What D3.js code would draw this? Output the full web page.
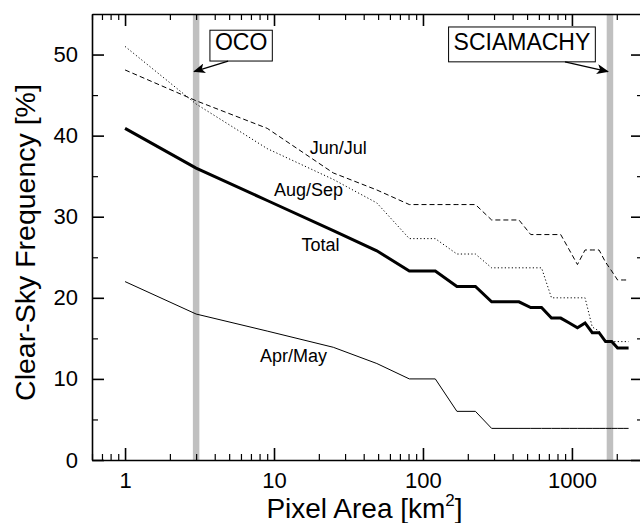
<!DOCTYPE html>
<html>
<head>
<meta charset="utf-8">
<script src="https://cdn.jsdelivr.net/npm/d3@7"></script>
<style>
  body { margin: 0; background: #fff; }
  svg { display: block; font-family: "Liberation Sans", Arial, sans-serif; }
</style>
</head>
<body>
<div id="vis"></div>
<script>
// data (pixel area in km2, clear-sky frequency in %)
const AREAS = [1, 3, 9, 25, 49, 81, 121, 169, 225, 289, 361, 441, 529, 625, 729,
               841, 961, 1089, 1225, 1369, 1521, 1681, 1849, 2025, 2209, 2401];
const TOTAL = [40.9, 36.0, 32.0, 28.3, 25.8, 23.3, 23.3, 21.4, 21.4, 19.5, 19.5, 19.5, 18.8,
               18.8, 17.5, 17.5, 16.9, 16.3, 16.9, 15.7, 15.7, 14.6, 14.6, 13.8, 13.8, 13.8];
const JUN_JUL = [48.1, 44.3, 40.9, 35.4, 33.3, 31.5, 31.5, 31.5, 31.5, 29.6, 29.6, 29.6, 27.8,
                 27.8, 27.8, 27.8, 25.9, 24.1, 25.9, 25.9, 25.9, 24.4, 23.3, 22.2, 22.2, 22.2];
const AUG_SEP = [51.0, 43.9, 38.4, 34.6, 31.7, 27.3, 27.3, 25.4, 25.4, 23.7, 23.7, 23.7, 23.7,
                 23.7, 20.0, 20.0, 20.0, 20.0, 20.0, 16.4, 15.9, 14.6, 14.6, 14.6, 14.6, 14.6];
const APR_MAY = [22.0, 18.0, 15.9, 13.9, 11.9, 10.0, 10.0, 6.0, 6.0, 3.9, 3.9, 3.9, 3.9,
                 3.9, 3.9, 3.9, 3.9, 3.9, 3.9, 3.9, 3.9, 3.9, 3.9, 3.9, 3.9, 3.9];

const X_MAJOR = [1, 10, 100, 1000];
const Y_MAJOR = [0, 10, 20, 30, 40, 50];
const SENSORS = [{name: "OCO", area: 3}, {name: "SCIAMACHY", area: 1800}];

// set constants
const FRAME_WIDTH = 640;
const FRAME_HEIGHT = 523;
const MARGINS = {left: 92, right: -3, top: 14, bottom: 63};
const VIS_WIDTH = FRAME_WIDTH - MARGINS.left - MARGINS.right;
const VIS_HEIGHT = FRAME_HEIGHT - MARGINS.top - MARGINS.bottom;

const FRAME = d3.select("#vis")
                .append("svg")
                  .attr("width", FRAME_WIDTH)
                  .attr("height", FRAME_HEIGHT);

const X_SCALE = d3.scaleLog()
                  .domain([0.6, 3000])
                  .range([0, VIS_WIDTH]);
const Y_SCALE = d3.scaleLinear()
                  .domain([0, 55])
                  .range([VIS_HEIGHT, 0]);

const G = FRAME.append("g")
               .attr("transform", "translate(" + MARGINS.left + "," + MARGINS.top + ")");

// minor tick values
const xMinor = [];
[0.1, 1, 10, 100, 1000].forEach(d => {
  for (let k = 2; k <= 9; k++) {
    const v = d * k;
    if (v >= 0.6 && v <= 3000) xMinor.push(v);
  }
});
const yMinor = [5, 15, 25, 35, 45];

// grey bands for the two instruments
G.selectAll(".band")
  .data(SENSORS)
  .enter()
  .append("line")
    .attr("x1", d => X_SCALE(d.area))
    .attr("x2", d => X_SCALE(d.area))
    .attr("y1", 0)
    .attr("y2", VIS_HEIGHT)
    .attr("stroke", "#c0c0c0")
    .attr("stroke-width", 6.5);

// series lines
const series = [
  {values: APR_MAY, width: 1, dash: null},
  {values: AUG_SEP, width: 1, dash: "1.2,2.3"},
  {values: JUN_JUL, width: 1, dash: "5,3"},
  {values: TOTAL, width: 3, dash: null}
];
const line = d3.line()
               .x((d, i) => X_SCALE(AREAS[i]))
               .y(d => Y_SCALE(d));

G.selectAll(".series")
  .data(series)
  .enter()
  .append("path")
    .attr("d", d => line(d.values))
    .attr("fill", "none")
    .attr("stroke", "#000")
    .attr("stroke-width", d => d.width)
    .attr("stroke-dasharray", d => d.dash)
    .attr("stroke-linejoin", "miter");

// axes, ticks pointing inward
function styleAxis(g) {
  g.select(".domain").attr("stroke-width", 1.6);
  g.selectAll(".tick line").attr("stroke-width", 1.6);
  g.selectAll("text").attr("font-size", "22px").attr("fill", "#000");
}
function styleMinor(g) {
  g.select(".domain").remove();
  g.selectAll(".tick line").attr("stroke-width", 1.2);
  g.selectAll("text").remove();
}

G.append("g")
  .attr("transform", "translate(0," + VIS_HEIGHT + ")")
  .call(d3.axisBottom(X_SCALE).tickValues(X_MAJOR).tickFormat(d3.format("d"))
          .tickSizeInner(-12).tickSizeOuter(0).tickPadding(12))
  .call(styleAxis);
G.append("g")
  .attr("transform", "translate(0," + VIS_HEIGHT + ")")
  .call(d3.axisBottom(X_SCALE).tickValues(xMinor).tickSize(-6))
  .call(styleMinor);

G.append("g")
  .call(d3.axisTop(X_SCALE).tickValues(X_MAJOR).tickFormat("")
          .tickSizeInner(-12).tickSizeOuter(0))
  .call(styleAxis);
G.append("g")
  .call(d3.axisTop(X_SCALE).tickValues(xMinor).tickSize(-6))
  .call(styleMinor);

G.append("g")
  .call(d3.axisLeft(Y_SCALE).tickValues(Y_MAJOR)
          .tickSizeInner(-12).tickSizeOuter(0).tickPadding(14))
  .call(styleAxis);
G.append("g")
  .call(d3.axisLeft(Y_SCALE).tickValues(yMinor).tickSize(-6))
  .call(styleMinor);

G.append("g")
  .attr("transform", "translate(" + VIS_WIDTH + ",0)")
  .call(d3.axisRight(Y_SCALE).tickValues(Y_MAJOR).tickFormat("")
          .tickSizeInner(-12).tickSizeOuter(0))
  .call(styleAxis);
G.append("g")
  .attr("transform", "translate(" + VIS_WIDTH + ",0)")
  .call(d3.axisRight(Y_SCALE).tickValues(yMinor).tickSize(-6))
  .call(styleMinor);

// series labels
const labels = [
  {text: "Jun/Jul", area: 17.4, value: 37.7},
  {text: "Aug/Sep", area: 10.0, value: 32.6},
  {text: "Total", area: 15.3, value: 25.8},
  {text: "Apr/May", area: 8.05, value: 12.1}
];
G.selectAll(".lbl")
  .data(labels)
  .enter()
  .append("text")
    .attr("x", d => X_SCALE(d.area))
    .attr("y", d => Y_SCALE(d.value))
    .attr("font-size", "18px")
    .text(d => d.text);

// instrument annotations with boxes and arrows
FRAME.append("defs").append("marker")
  .attr("id", "arrow")
  .attr("viewBox", "0 0 12 10")
  .attr("refX", 11)
  .attr("refY", 5)
  .attr("markerWidth", 12)
  .attr("markerHeight", 10)
  .attr("markerUnits", "userSpaceOnUse")
  .attr("orient", "auto")
  .append("path")
    .attr("d", "M0,0 L12,5 L0,10 L3,5 Z")
    .attr("fill", "#000");

const notes = [
  {text: "OCO", cx: X_SCALE(3) + 45, top: 53.0, bottom: 49.2,
   tipX: X_SCALE(3) - 2, fromX: X_SCALE(3) + 32},
  {text: "SCIAMACHY", cx: X_SCALE(1800) - 88, top: 53.4, bottom: 49.1,
   tipX: X_SCALE(1800) - 2, fromX: X_SCALE(1800) - 45}
];
notes.forEach(n => {
  const ng = G.append("g");
  const box = ng.append("rect");
  const txt = ng.append("text")
    .attr("x", n.cx)
    .attr("y", Y_SCALE(50.5))
    .attr("text-anchor", "middle")
    .attr("font-size", "23px")
    .text(n.text);
  const w = txt.node().getBBox().width + 10;
  box.attr("x", n.cx - w / 2)
     .attr("y", Y_SCALE(n.top))
     .attr("width", w)
     .attr("height", Y_SCALE(n.bottom) - Y_SCALE(n.top))
     .attr("fill", "#fff")
     .attr("stroke", "#000")
     .attr("stroke-width", 1);
  ng.append("line")
    .attr("x1", n.fromX)
    .attr("y1", Y_SCALE(n.bottom))
    .attr("x2", n.tipX)
    .attr("y2", Y_SCALE(47.9))
    .attr("stroke", "#000")
    .attr("stroke-width", 1.3)
    .attr("marker-end", "url(#arrow)");
});

// axis titles
FRAME.append("text")
  .attr("x", MARGINS.left + X_SCALE(Math.sqrt(0.6 * 3000)) - 3)
  .attr("y", 518)
  .attr("text-anchor", "middle")
  .attr("font-size", "28px")
  .text("Pixel Area [km")
  .append("tspan")
    .attr("font-size", "17px")
    .attr("dy", -12)
    .text("2")
  .select(function() { return this.parentNode; })
  .append("tspan")
    .attr("dy", 12)
    .text("]");

FRAME.append("text")
  .attr("transform", "translate(35,242.5) rotate(-90)")
  .attr("text-anchor", "middle")
  .attr("font-size", "28.5px")
  .text("Clear-Sky Frequency [%]");
</script>
</body>
</html>
